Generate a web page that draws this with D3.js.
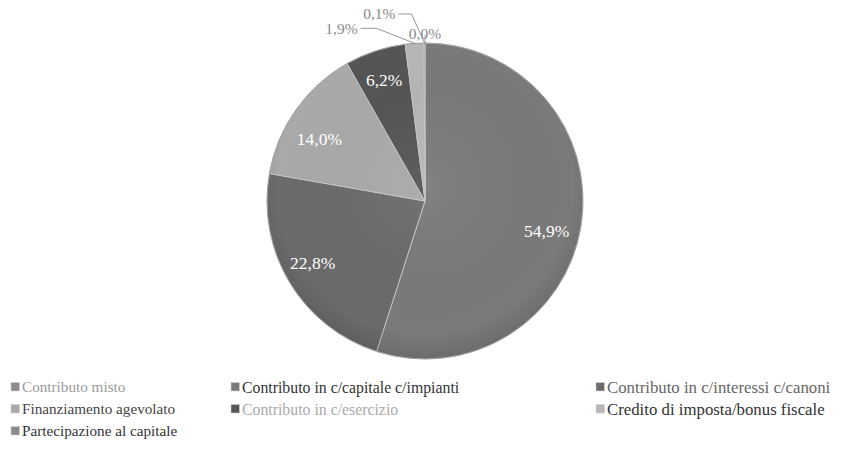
<!DOCTYPE html>
<html><head><meta charset="utf-8">
<script src="https://cdn.jsdelivr.net/npm/d3@7"></script>
<style>html,body{margin:0;padding:0;background:#fff;}svg{display:block;} text{font-family:'Liberation Serif','DejaVu Serif',serif;}</style>
</head><body>
<svg id="chart" width="842" height="460"></svg>
<script>
// ---- data ----
const categories = [
  "Contributo misto",
  "Contributo in c/capitale c/impianti",
  "Contributo in c/interessi c/canoni",
  "Finanziamento agevolato",
  "Contributo in c/esercizio",
  "Credito di imposta/bonus fiscale",
  "Partecipazione al capitale"
];
const values = [0.0, 54.9, 22.8, 14.0, 6.2, 1.9, 0.1];
const valueLabels = ["0,0%", "54,9%", "22,8%", "14,0%", "6,2%", "1,9%", "0,1%"];

// ---- styles ----
const sliceColors = ["#8c8c8c", "#7a7a7a", "#6b6b6b", "#a9a9a9", "#555555", "#b6b6b6", "#8a8a8a"];
const legendTextColors = ["#9a9a9a", "#333333", "#666666", "#444444", "#aaaaaa", "#333333", "#333333"];

const svg = d3.select("#chart");
const cx = 425, cy = 201, R = 158;

const defs = svg.append("defs");
const rg = defs.append("radialGradient").attr("id", "shade")
  .attr("cx", "50%").attr("cy", "45%").attr("r", "55%");
rg.append("stop").attr("offset", "0%").attr("stop-color", "#fff").attr("stop-opacity", 0.06);
rg.append("stop").attr("offset", "85%").attr("stop-color", "#000").attr("stop-opacity", 0.0);
rg.append("stop").attr("offset", "100%").attr("stop-color", "#000").attr("stop-opacity", 0.12);

const pie = d3.pie().sort(null).value(d => d)(values);
const arc = d3.arc().innerRadius(0).outerRadius(R);
const g = svg.append("g").attr("transform", `translate(${cx},${cy})`);

g.selectAll("path.slice").data(pie).join("path")
  .attr("class", "slice")
  .attr("d", arc)
  .attr("fill", (d, i) => sliceColors[i])
  .attr("stroke", "#c4c4c4")
  .attr("stroke-width", 1);

g.append("circle").attr("r", R).attr("fill", "url(#shade)").attr("stroke", "#8a8a8a").attr("stroke-width", 0.6);

// inside labels (big slices), with best-fit nudges
const labelArc = d3.arc().innerRadius(R * 0.76).outerRadius(R * 0.76);
const labelNudge = {1: [3, 11.5], 2: [-9.5, 0], 3: [-7.5, 7.5], 4: [-3, -7]};
const inside = pie.filter(d => d.value >= 5);
g.selectAll("text.in").data(inside).join("text")
  .attr("class", "in")
  .attr("transform", d => {
    const c = labelArc.centroid(d), n = labelNudge[d.index] || [0, 0];
    return `translate(${c[0] + n[0]},${c[1] + n[1]})`;
  })
  .attr("text-anchor", "middle").attr("dy", "0.35em")
  .attr("font-size", 17.5).attr("fill", "#ffffff")
  .text(d => valueLabels[d.index]);

// outside labels with leader lines (small slices)
const outsideLayout = {
  5: {lx: -57, ly: -15, elbowDx: -38, anchor: "end"},
  6: {lx: -29, ly: -29, elbowDx: -13, anchor: "end"},
  0: {lx: 0, ly: -9, elbowDx: 0, anchor: "middle"}
};
const outer = pie.filter(d => d.value < 5);
outer.forEach(d => {
  const a = (d.startAngle + d.endAngle) / 2;
  const ax = Math.sin(a) * R, ay = -Math.cos(a) * R;
  const L = outsideLayout[d.index];
  const tx = ax + L.lx, ty = ay + L.ly;
  const pts = d.index === 0
    ? [[ax, ay], [ax, ay - 8]]
    : [[tx + 3, ty], [ax + L.elbowDx, ty], [ax, ay]];
  g.append("path")
    .attr("d", d3.line()(pts))
    .attr("fill", "none").attr("stroke", "#8c8c8c").attr("stroke-width", 0.9);
  g.append("text")
    .attr("x", tx).attr("y", ty)
    .attr("text-anchor", L.anchor).attr("dy", "0.35em")
    .attr("font-size", 15.5).attr("fill", "#8a8a8a")
    .text(valueLabels[d.index]);
});

// legend
const colX = [11, 231, 596];
const colFont = [15.2, 15.8, 16.8];
const rowY = [387, 409, 431];
const leg = svg.append("g");
categories.forEach((c, i) => {
  const col = i % 3, row = Math.floor(i / 3);
  const x = colX[col], y = rowY[row];
  leg.append("rect").attr("x", x).attr("y", y - 4.5).attr("width", 8.5).attr("height", 8.5)
    .attr("fill", sliceColors[i]).attr("stroke", "#d0d0d0").attr("stroke-width", 0.6);
  leg.append("text").attr("x", x + 11).attr("y", y).attr("dy", "0.35em")
    .attr("font-size", colFont[col]).attr("fill", legendTextColors[i])
    .text(c);
});
</script>
</body></html>
